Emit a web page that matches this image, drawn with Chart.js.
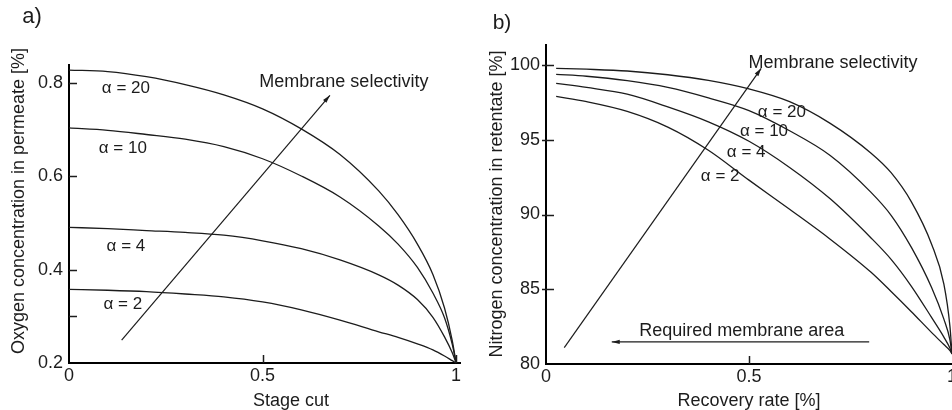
<!DOCTYPE html>
<html>
<head>
<meta charset="utf-8">
<script src="https://cdn.jsdelivr.net/npm/chart.js@4.4.1/dist/chart.umd.min.js"></script>
<style>
  html, body { margin: 0; padding: 0; background: #fff; overflow: hidden; }
  body { width: 952px; height: 410px; position: relative; }
  canvas { position: absolute; top: 0; }
  #chartA { left: 0; }
  #chartB { left: 476px; }
</style>
</head>
<body>
<canvas id="chartA" width="476" height="410"></canvas>
<canvas id="chartB" width="486" height="410"></canvas>
<script>
// a) oxygen in permeate vs stage cut
const stageCut = [0, 0.1, 0.2, 0.3, 0.4, 0.5, 0.6, 0.7, 0.8, 0.85, 0.9, 0.94, 0.97, 0.99, 1.0];
const oxygenA20 = [0.828, 0.825, 0.814, 0.797, 0.775, 0.745, 0.702, 0.647, 0.569, 0.518, 0.455, 0.390, 0.318, 0.248, 0.2];
const oxygenA10 = [0.704, 0.699, 0.690, 0.680, 0.664, 0.638, 0.601, 0.556, 0.494, 0.455, 0.405, 0.350, 0.297, 0.240, 0.2];
const oxygenA4  = [0.491, 0.488, 0.484, 0.480, 0.474, 0.462, 0.445, 0.421, 0.389, 0.367, 0.336, 0.298, 0.256, 0.222, 0.2];
const oxygenA2  = [0.358, 0.356, 0.353, 0.348, 0.342, 0.331, 0.314, 0.292, 0.267, 0.255, 0.241, 0.228, 0.215, 0.205, 0.2];
const selectivityArrowAX = [0.136, 0.674];
const selectivityArrowAY = [0.249, 0.774];

// b) nitrogen in retentate vs recovery rate
const recovery = [0.025, 0.1, 0.2, 0.3, 0.4, 0.5, 0.6, 0.7, 0.8, 0.85, 0.9, 0.95, 0.98, 0.995, 1.0];
const nitrogenA20 = [99.78, 99.72, 99.6, 99.35, 98.97, 98.4, 97.55, 96.1, 94.12, 92.8, 90.85, 88.0, 85.35, 82.5, 80.67];
const nitrogenA10 = [99.38, 99.25, 98.95, 98.5, 97.8, 96.95, 95.6, 93.95, 91.5, 89.95, 87.8, 85.1, 83.0, 81.6, 80.67];
const nitrogenA4  = [98.77, 98.5, 98.05, 97.2, 96.2, 94.9, 93.15, 91.05, 88.45, 87.0, 85.2, 83.1, 81.8, 81.05, 80.67];
const nitrogenA2  = [97.9, 97.55, 96.9, 95.85, 94.3, 92.3, 90.35, 88.35, 86.15, 84.85, 83.5, 82.1, 81.3, 80.9, 80.67];
const selectivityArrowBX = [0.045, 0.53];
const selectivityArrowBY = [81.09, 99.78];
const areaArrowX = [0.796, 0.162];
const areaArrowY = [81.48, 81.48];

const alphaLabels = ['\u03b1 = 20', '\u03b1 = 10', '\u03b1 = 4', '\u03b1 = 2'];

// ticks
const stageCutTicks = [0, 0.5, 1];
const stageCutTickLabels = ['0', '0.5', '1'];
const oxygenTicks = [0.2, 0.3, 0.4, 0.6, 0.8];
const oxygenTickLabels = ['0.2', '', '0.4', '0.6', '0.8'];
const recoveryTicks = [0, 0.5, 1];
const recoveryTickLabels = ['0', '0.5', '1'];
const nitrogenTicks = [80, 85, 90, 95, 100];
const nitrogenTickLabels = ['80', '85', '90', '95', '100'];

const FONT = '"Liberation Sans", Arial, sans-serif';
const ink = '#1c1c1c';

const pairs = (xs, ys) => xs.map((v, i) => ({ x: v, y: ys[i] }));

function curve(xs, ys) {
  return { data: pairs(xs, ys), borderColor: ink, borderWidth: 1.3, pointRadius: 0,
           showLine: true, cubicInterpolationMode: 'monotone', clip: false };
}
function arrow(xs, ys) {
  return { data: pairs(xs, ys), borderColor: ink, borderWidth: 1.2, pointRadius: 0,
           showLine: true, tension: 0, arrow: true, clip: false };
}

function arrowHead(ctx, x1, y1, x2, y2, len, half) {
  const a = Math.atan2(y2 - y1, x2 - x1);
  const bx = x2 - len * Math.cos(a), by = y2 - len * Math.sin(a);
  ctx.beginPath();
  ctx.moveTo(x2, y2);
  ctx.lineTo(bx + half * Math.sin(a), by - half * Math.cos(a));
  ctx.lineTo(bx - half * Math.sin(a), by + half * Math.cos(a));
  ctx.closePath();
  ctx.fill();
}

// ticks pointing into the plot, arrow heads, curve labels and titles
const decor = {
  id: 'decor',
  afterDatasetsDraw(chart, args, opts) {
    const { ctx, chartArea: area, scales: { x, y } } = chart;
    ctx.save();
    ctx.strokeStyle = ink;
    ctx.fillStyle = ink;
    ctx.lineWidth = 1.5;
    ctx.beginPath();
    opts.xTicks.forEach(v => {
      if (v <= x.min || v >= x.max) return;
      const px = Math.round(x.getPixelForValue(v)) + 0.5;
      ctx.moveTo(px, area.bottom);
      ctx.lineTo(px, area.bottom - 8);
    });
    opts.yTicks.forEach(v => {
      if (v <= y.min) return;
      const py = Math.round(y.getPixelForValue(v)) + 0.5;
      ctx.moveTo(area.left - opts.tickOut, py);
      ctx.lineTo(area.left + 8, py);
    });
    ctx.stroke();

    chart.data.datasets.forEach((ds, i) => {
      if (!ds.arrow) return;
      const pts = chart.getDatasetMeta(i).data;
      const p = pts[pts.length - 2], q = pts[pts.length - 1];
      arrowHead(ctx, p.x, p.y, q.x, q.y, 8, 2.2);
    });

    ctx.textAlign = 'center';
    ctx.textBaseline = 'middle';
    opts.notes.forEach(n => {
      ctx.font = n.size + 'px ' + FONT;
      ctx.fillText(n.text, x.getPixelForValue(n.x), y.getPixelForValue(n.y));
    });

    ctx.font = '18px ' + FONT;
    ctx.fillText(opts.xTitle.text, opts.xTitle.cx, opts.xTitle.cy);
    ctx.save();
    ctx.translate(opts.yTitle.cx, opts.yTitle.cy);
    ctx.rotate(-Math.PI / 2);
    ctx.fillText(opts.yTitle.text, 0, 0);
    ctx.restore();

    ctx.font = opts.letter.size + 'px ' + FONT;
    ctx.fillText(opts.letter.text, opts.letter.cx, opts.letter.cy);
    ctx.restore();
  }
};

function axis(min, max, ticks, labels, size, pad) {
  return {
    type: 'linear', min: min, max: max,
    grid: { display: false, drawTicks: false },
    border: { display: true, color: '#000', width: 2 },
    ticks: {
      color: ink, font: { family: FONT, size: 18 }, padding: pad,
      autoSkip: false, maxRotation: 0,
      callback: (v, i) => labels[i]
    },
    afterBuildTicks: s => { s.ticks = ticks.map(v => ({ value: v })); },
    afterFit: s => { if (s.isHorizontal()) s.height = size; else s.width = size; }
  };
}

new Chart(document.getElementById('chartA'), {
  type: 'scatter',
  data: {
    datasets: [
      curve(stageCut, oxygenA20),
      curve(stageCut, oxygenA10),
      curve(stageCut, oxygenA4),
      curve(stageCut, oxygenA2),
      arrow(selectivityArrowAX, selectivityArrowAY)
    ]
  },
  options: {
    responsive: false,
    animation: false,
    layout: { padding: { top: 65, right: 16, left: 0, bottom: 0 } },
    scales: {
      x: axis(0, 1.01, stageCutTicks, stageCutTickLabels, 47, 2),
      y: axis(0.2, 0.839, oxygenTicks, oxygenTickLabels, 69, 6)
    },
    plugins: {
      legend: { display: false },
      tooltip: { enabled: false },
      decor: {
        xTicks: stageCutTicks, yTicks: oxygenTicks, tickOut: 0,
        notes: [
          { text: alphaLabels[0], x: 0.147, y: 0.790, size: 17 },
          { text: alphaLabels[1], x: 0.139, y: 0.661, size: 17 },
          { text: alphaLabels[2], x: 0.147, y: 0.450, size: 17 },
          { text: alphaLabels[3], x: 0.139, y: 0.326, size: 17 },
          { text: 'Membrane selectivity', x: 0.710, y: 0.802, size: 18 }
        ],
        xTitle: { text: 'Stage cut', cx: 291, cy: 401 },
        yTitle: { text: 'Oxygen concentration in permeate [%]', cx: 19, cy: 201 },
        letter: { text: 'a)', cx: 32, cy: 17, size: 22 }
      }
    }
  },
  plugins: [decor]
});

new Chart(document.getElementById('chartB'), {
  type: 'scatter',
  data: {
    datasets: [
      curve(recovery, nitrogenA20),
      curve(recovery, nitrogenA10),
      curve(recovery, nitrogenA4),
      curve(recovery, nitrogenA2),
      arrow(selectivityArrowBX, selectivityArrowBY),
      arrow(areaArrowX, areaArrowY)
    ]
  },
  options: {
    responsive: false,
    animation: false,
    layout: { padding: { top: 45, right: 10, left: 0, bottom: 0 } },
    scales: {
      x: axis(0, 1, recoveryTicks, recoveryTickLabels, 46, 2),
      y: axis(80, 101.34, nitrogenTicks, nitrogenTickLabels, 70, 6)
    },
    plugins: {
      legend: { display: false },
      tooltip: { enabled: false },
      decor: {
        xTicks: recoveryTicks, yTicks: nitrogenTicks, tickOut: 4,
        notes: [
          { text: alphaLabels[0], x: 0.581, y: 96.81, size: 17 },
          { text: alphaLabels[1], x: 0.537, y: 95.54, size: 17 },
          { text: alphaLabels[2], x: 0.493, y: 94.19, size: 17 },
          { text: alphaLabels[3], x: 0.429, y: 92.55, size: 17 },
          { text: 'Membrane selectivity', x: 0.707, y: 100.13, size: 18 },
          { text: 'Required membrane area', x: 0.482, y: 82.21, size: 18 }
        ],
        xTitle: { text: 'Recovery rate [%]', cx: 273, cy: 401 },
        yTitle: { text: 'Nitrogen concentration in retentate [%]', cx: 21, cy: 204 },
        letter: { text: 'b)', cx: 26, cy: 23, size: 21 }
      }
    }
  },
  plugins: [decor]
});
</script>
</body>
</html>
